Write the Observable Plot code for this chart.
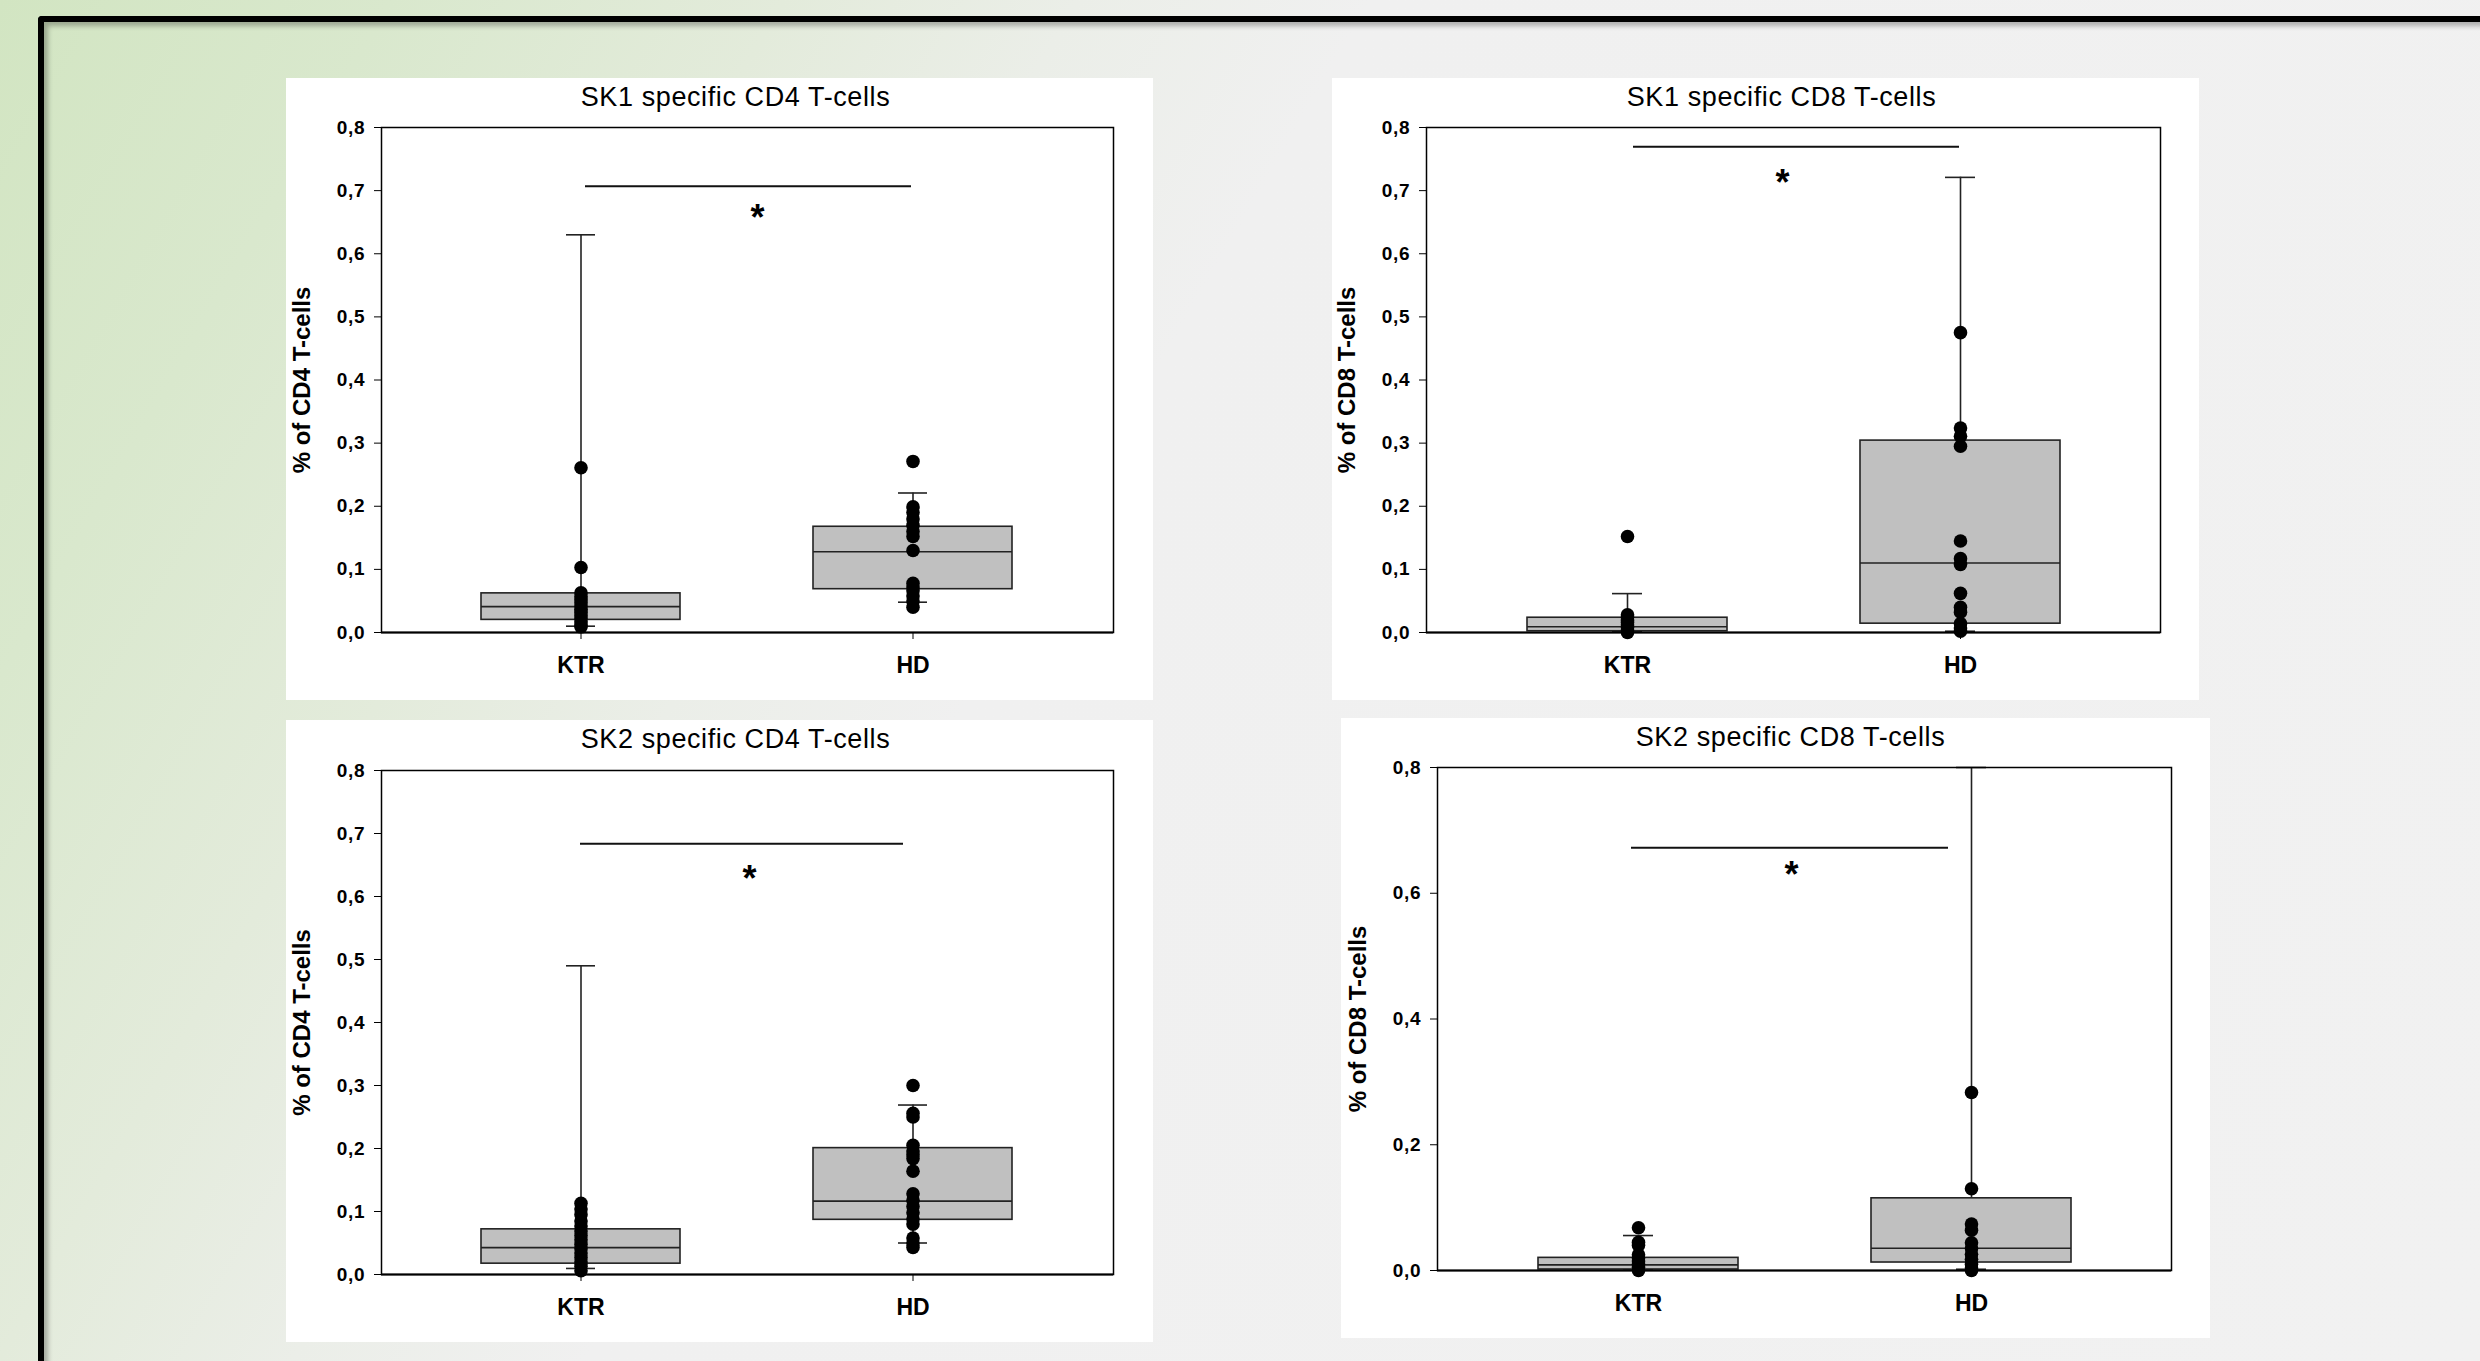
<!DOCTYPE html>
<html>
<head>
<meta charset="utf-8">
<script src="https://cdn.jsdelivr.net/npm/d3@7"></script>
<script src="https://cdn.jsdelivr.net/npm/@observablehq/plot@0.6"></script>
<style>
  html, body { margin: 0; padding: 0; }
  body {
    width: 2480px; height: 1361px; overflow: hidden; position: relative;
    background: linear-gradient(120deg, #d2e5c2 0%, #d9e8cd 12%, #e3ebdb 24%, #ebeee8 33%, #f0f0f0 42%, #f1f1f1 100%);
    font-family: "Liberation Sans", Arial, sans-serif;
  }
  #slideframe {
    position: absolute; left: 38px; top: 16px; width: 2500px; height: 1400px;
    border-top: 6px solid #000; border-left: 6px solid #000; border-top-left-radius: 4px;
    box-shadow: inset 4px 4px 5px rgba(0,0,0,0.28);
  }
  .panel { position: absolute; background: #fff; }
  .ptitle {
    height: 38px; line-height: 38px; width: 899px; text-align: center;
    font-size: 27px; color: #000; white-space: nowrap; letter-spacing: 0.6px;
  }
  .panel svg { display: block; overflow: visible; }
  g[aria-label="y-axis tick label"] text { letter-spacing: 0.8px; }
</style>
</head>
<body>
<div id="slideframe"></div>
<div id="root"></div>
<script>
// ---------- data ----------
const groups = ["KTR", "HD"];
const titles = ["SK1 specific CD4 T-cells", "SK1 specific CD8 T-cells", "SK2 specific CD4 T-cells", "SK2 specific CD8 T-cells"];
const yLabels = ["% of CD4 T-cells", "% of CD8 T-cells", "% of CD4 T-cells", "% of CD8 T-cells"];
const ticksFine = [0, 0.1, 0.2, 0.3, 0.4, 0.5, 0.6, 0.7, 0.8];
const ticksCoarse = [0, 0.2, 0.4, 0.6, 0.8];

// box stats: [lower whisker, Q1, median, Q3, upper whisker]
const sk1cd4KTRbox = [0.010, 0.020, 0.041, 0.062, 0.630];
const sk1cd4HDbox  = [0.048, 0.0686, 0.128, 0.1675, 0.221];
const sk1cd8KTRbox = [0.001, 0.002, 0.009, 0.0234, 0.0616];
const sk1cd8HDbox  = [0.002, 0.014, 0.110, 0.304, 0.721];
const sk2cd4KTRbox = [0.0096, 0.0172, 0.0427, 0.0717, 0.490];
const sk2cd4HDbox  = [0.050, 0.0868, 0.1165, 0.2006, 0.269];
const sk2cd8KTRbox = [0.0005, 0.0016, 0.009, 0.0201, 0.0556];
const sk2cd8HDbox  = [0.002, 0.0127, 0.0354, 0.1148, 0.85];

// individual points
const sk1cd4KTRdots = [0.261, 0.103, 0.063, 0.057, 0.052, 0.047, 0.042, 0.037, 0.032, 0.027, 0.022, 0.017, 0.012, 0.009];
const sk1cd4HDdots  = [0.271, 0.199, 0.190, 0.180, 0.170, 0.160, 0.152, 0.130, 0.078, 0.072, 0.066, 0.058, 0.050, 0.040];
const sk1cd8KTRdots = [0.152, 0.028, 0.024, 0.020, 0.016, 0.012, 0.008, 0.004, 0.000];
const sk1cd8HDdots  = [0.475, 0.324, 0.311, 0.295, 0.145, 0.117, 0.108, 0.062, 0.040, 0.032, 0.014, 0.007, 0.002];
const sk2cd4KTRdots = [0.113, 0.104, 0.095, 0.085, 0.077, 0.069, 0.062, 0.055, 0.048, 0.041, 0.034, 0.027, 0.020, 0.013, 0.006];
const sk2cd4HDdots  = [0.300, 0.256, 0.250, 0.205, 0.196, 0.190, 0.184, 0.164, 0.128, 0.118, 0.108, 0.098, 0.088, 0.080, 0.058, 0.050, 0.043];
const sk2cd8KTRdots = [0.068, 0.045, 0.040, 0.025, 0.020, 0.015, 0.010, 0.005, 0.000];
const sk2cd8HDdots  = [0.283, 0.130, 0.074, 0.064, 0.044, 0.035, 0.026, 0.018, 0.010, 0.004, 0.000];

// significance: [bar level, asterisk level]
const sk1cd4Sig = [0.707, 0.670];
const sk1cd8Sig = [0.7696, 0.726];
const sk2cd4Sig = [0.6837, 0.642];
const sk2cd8Sig = [0.6722, 0.6425];

// ---------- drawing ----------
const FONT = '"Liberation Sans", Arial, sans-serif';
const fmt = d => d.toFixed(1).replace(".", ",");

function makePanel(cfg) {
  const {left, top, width, height, ml, mr, mt, mb, title, ylabel, ticks, ktrBox, hdBox, ktrDots, hdDots, sig, starDx, barIn} = cfg;
  const toRow = (g, b) => ({group: g, lo: b[0], q1: b[1], med: b[2], q3: b[3], hi: b[4]});
  const boxes = [toRow("KTR", ktrBox), toRow("HD", hdBox)];
  const dots = [
    ...ktrDots.map(v => ({group: "KTR", value: v})),
    ...hdDots.map(v => ({group: "HD", value: v}))
  ];
  const sigRows = [{from: groups[0], to: groups[1], bar: sig[0], star: sig[1]}];
  const svgH = height - 38;
  const line = "#222";

  const chart = Plot.plot({
    width, height: svgH,
    marginLeft: ml, marginRight: mr, marginTop: mt, marginBottom: mb,
    style: {background: "transparent", fontFamily: FONT, color: "#000", overflow: "visible"},
    x: {type: "band", domain: groups, paddingInner: 0.4, paddingOuter: 0.3, axis: null},
    y: {domain: [0, 0.8], clamp: true, axis: null},
    marks: [
      Plot.ruleX(boxes, {x: "group", y1: "q3", y2: "hi", stroke: line, strokeWidth: 1.6}),
      Plot.ruleX(boxes, {x: "group", y1: "lo", y2: "q1", stroke: line, strokeWidth: 1.6}),
      Plot.tickY(boxes, {x: "group", y: "hi", stroke: line, strokeWidth: 1.6, insetLeft: 85, insetRight: 85}),
      Plot.tickY(boxes, {x: "group", y: "lo", stroke: line, strokeWidth: 1.6, insetLeft: 85, insetRight: 85}),
      Plot.barY(boxes, {x: "group", y1: "q1", y2: "q3", fill: "#c0c0c0", stroke: line, strokeWidth: 1.6}),
      Plot.tickY(boxes, {x: "group", y: "med", stroke: line, strokeWidth: 1.6}),
      Plot.dot(dots, {x: "group", y: "value", r: 6.8, fill: "#000"}),
      Plot.ruleY(sigRows, {x1: "from", x2: "to", y: "bar", stroke: "#111", strokeWidth: 2, insetLeft: barIn[0], insetRight: barIn[1]}),
      Plot.text(sigRows, {y: "star", text: () => "*", dx: starDx, dy: 9, fontSize: 36, fontWeight: "bold", fill: "#000"}),
      Plot.frame({stroke: "#000", strokeWidth: 1.5}),
      Plot.ruleY([0], {stroke: "#000", strokeWidth: 2}),
      Plot.axisY({ticks, tickSize: 7, tickPadding: 9, tickFormat: fmt, fontSize: 19, fontWeight: "bold", label: null, stroke: "#000", fill: "#000"}),
      Plot.axisX({tickSize: 7, tickPadding: 17, fontSize: 23, fontWeight: "bold", label: null, stroke: "#000", fill: "#000"}),
      Plot.text([ylabel], {frameAnchor: "left", rotate: -90, dx: -79, text: d => d, textAnchor: "middle", fontSize: 24, fontWeight: "bold", fill: "#000"})
    ]
  });

  const div = document.createElement("div");
  div.className = "panel";
  Object.assign(div.style, {left: left + "px", top: top + "px", width: width + "px", height: height + "px"});
  const t = document.createElement("div");
  t.className = "ptitle";
  t.textContent = title;
  div.appendChild(t);
  div.appendChild(chart);
  document.getElementById("root").appendChild(div);
}

makePanel({left: 286, top: 78, width: 867, height: 622, ml: 95, mr: 40, mt: 11, mb: 68,
  title: titles[0], ylabel: yLabels[0], ticks: ticksFine, ktrBox: sk1cd4KTRbox, hdBox: sk1cd4HDbox,
  ktrDots: sk1cd4KTRdots, hdDots: sk1cd4HDdots, sig: sk1cd4Sig, starDx: 10, barIn: [104, 101]});
makePanel({left: 1332, top: 78, width: 867, height: 622, ml: 94, mr: 39, mt: 11, mb: 68,
  title: titles[1], ylabel: yLabels[1], ticks: ticksFine, ktrBox: sk1cd8KTRbox, hdBox: sk1cd8HDbox,
  ktrDots: sk1cd8KTRdots, hdDots: sk1cd8HDdots, sig: sk1cd8Sig, starDx: -11, barIn: [106, 101]});
makePanel({left: 286, top: 720, width: 867, height: 622, ml: 95, mr: 40, mt: 12, mb: 68,
  title: titles[2], ylabel: yLabels[2], ticks: ticksFine, ktrBox: sk2cd4KTRbox, hdBox: sk2cd4HDbox,
  ktrDots: sk2cd4KTRdots, hdDots: sk2cd4HDdots, sig: sk2cd4Sig, starDx: 2, barIn: [99, 109]});
makePanel({left: 1341, top: 718, width: 869, height: 620, ml: 96, mr: 39, mt: 11, mb: 68,
  title: titles[3], ylabel: yLabels[3], ticks: ticksCoarse, ktrBox: sk2cd8KTRbox, hdBox: sk2cd8HDbox,
  ktrDots: sk2cd8KTRdots, hdDots: sk2cd8HDdots, sig: sk2cd8Sig, starDx: -13, barIn: [93, 123]});
</script>
</body>
</html>
